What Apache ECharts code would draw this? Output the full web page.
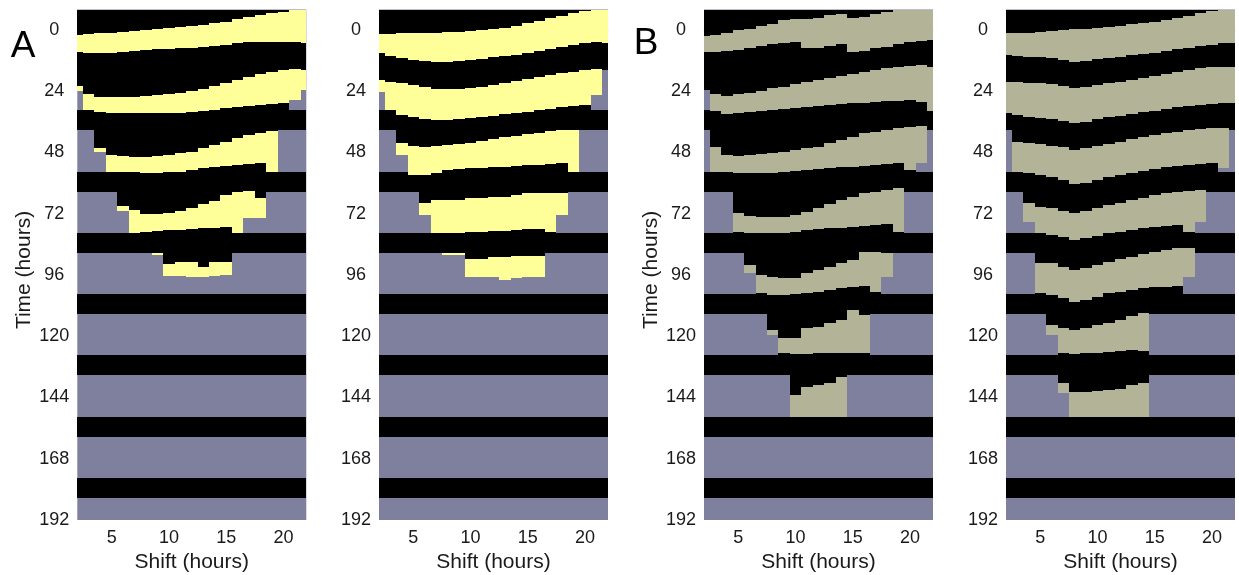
<!DOCTYPE html>
<html><head><meta charset="utf-8">
<script src="https://cdn.jsdelivr.net/npm/echarts@6/dist/echarts.min.js"></script>
<style>html,body{margin:0;padding:0;background:#fff}#c{width:1239px;height:575px}</style>
</head><body><div id="c"></div>
<script>
const _ = null;
// Column centres (shift, hours) and axis ticks
const shifts = [2,3,4,5,6,7,8,9,10,11,12,13,14,15,16,17,18,19,20,21,22];
const timeTicks = [0,24,48,72,96,120,144,168,192];
const shiftTicks = [5,10,15,20];
// Fixed sleep stripes (repeating every 24 h)
const sleepStart = 7.45, sleepEnd = 15.3, nDays = 8;

// ---- Panel A (left): end of the transient region, yellow band starts / ends
const a1End = [23.8,31.3,47.7,55.5,70.8,79.7,79.7,88.0,96.4,96.4,96.7,96.7,96.4,96.0,79.7,73.8,73.8,55.5,31.3,27.4,23.5];
const a1Top = [
 [2.0,1.7,1.3,1.0,0.7,0.3,0,-0.3,-0.7,-1.0,-1.6,-2.0,-2.6,-3.3,-4.2,-5.2,-5.9,-6.5,-7.2,-8,-8],
 [21.9,25.1,26.1,26.4,26.1,26.1,25.9,25.5,25.1,24.6,23.8,23.0,21.9,20.9,19.6,18.5,17.2,16.3,15.7,15.4,15.7],
 [_,_,46.1,49.0,49.4,49.6,49.6,49.4,49.0,48.3,47.7,46.4,45.1,43.8,42.5,41.1,40.2,39.4,_,_,_],
 [_,_,_,_,69.0,70.5,72.0,72.0,71.6,70.8,69.9,68.2,66.9,64.7,63.3,62.9,66.0,_,_,_,_],
 [_,_,_,_,_,_,_,87.5,91.7,90.8,90.8,92.7,90.8,90.8,_,_,_,_,_,_,_]
];
const a1Bot = [
 [8.5,8.9,9.1,8.9,8.5,8.2,7.8,7.6,7.4,7.2,6.9,6.5,6.3,5.9,5.2,4.8,4.6,4.6,4.6,4.8,5.2],
 [23.8,31.3,32.0,32.4,32.7,32.7,32.7,32.7,32.7,32.4,32.1,31.9,31.3,30.7,30.3,29.8,29.4,29.0,28.7,27.4,23.5],
 [_,_,47.7,55.5,55.5,55.5,55.9,55.9,55.7,55.5,54.9,54.2,53.6,53.2,52.9,52.6,52.2,55.5,_,_,_],
 [_,_,_,_,70.8,79.7,79.0,78.8,78.5,78.2,78.0,77.7,77.5,77.3,79.5,73.8,73.8,_,_,_,_],
 [_,_,_,_,_,_,_,88.0,96.4,96.4,96.7,96.7,96.4,96.0,_,_,_,_,_,_,_]
];
// ---- Panel A (right)
const a2End = [24.2,31.3,49.0,57.0,72.5,79.7,88.2,88.2,96.7,96.7,96.7,98.0,97.3,96.9,96.9,79.7,72.5,55.5,31.3,25.5,15.7];
const a2Top = [
 [1.6,1.6,1.3,1.3,1.2,1.0,0.9,0.7,0.4,0,-0.4,-0.9,-1.6,-2.6,-3.7,-4.6,-5.5,-6.5,-7.4,-8,-8],
 [19.6,20.2,20.9,21.7,22.5,23.1,23.2,23.1,22.7,22.2,21.6,20.9,20.1,19.3,18.5,17.8,17.0,16.3,15.8,15.4,_],
 [_,_,44.4,45.5,46.0,45.5,45.1,44.7,44.1,43.5,42.8,42.1,41.4,40.8,40.2,39.6,39.2,39.2,_,_,_],
 [_,_,_,_,67.9,66.6,66.6,66.6,66.0,66.0,65.3,65.3,64.7,63.7,63.7,64.0,63.7,_,_,_,_],
 [_,_,_,_,_,_,87.5,87.5,89.8,89.8,89.1,89.1,88.5,88.5,88.5,_,_,_,_,_,_]
];
const a2Bot = [
 [9.1,10.2,11.1,11.8,12.3,12.5,12.5,12.3,11.8,11.2,10.7,10.2,9.7,8.9,8.1,7.3,6.5,5.9,5.2,4.8,5.0],
 [24.2,31.3,33.3,34.0,34.7,35.3,35.3,35.0,34.6,34.0,33.6,33.0,32.7,32.0,31.3,30.8,30.3,29.8,29.4,25.5,_],
 [_,_,49.0,57.0,57.0,56.2,54.9,54.6,54.2,53.9,53.8,53.6,53.3,53.0,52.8,52.5,52.2,55.5,_,_,_],
 [_,_,_,_,72.5,79.7,79.7,79.7,79.0,79.0,78.8,78.8,78.4,77.9,77.9,79.0,72.5,_,_,_,_],
 [_,_,_,_,_,_,88.2,88.2,96.7,96.7,96.7,98.0,97.3,96.9,96.9,_,_,_,_,_,_]
];
// ---- Panel B (left)
const b1End = [23.5,55.5,55.5,79.7,95.4,103.8,119.5,127.4,151.5,151.5,151.5,151.5,151.5,127.4,127.4,103.8,96.7,79.7,55.5,52.2,31.7];
const b1Top = [
 [2.2,2.0,1.3,0,-0.4,-1.7,-2.2,-3.9,-4.3,-4.3,-4.8,-5.9,-6.1,-4.6,-5.2,-6.1,-6.9,-8,-8,-8,-8],
 [_,25.2,25.7,25.2,24.8,23.9,22.9,22.2,21.3,20.5,19.6,18.9,17.9,17.4,16.3,15.7,15.0,14.4,14.0,13.7,14.4],
 [_,45.7,49.0,49.4,49.0,48.6,48.3,47.7,47.0,46.4,45.7,44.4,43.1,41.8,40.5,39.8,39.2,38.5,37.9,37.6,_],
 [_,_,_,71.8,72.9,73.1,73.4,73.1,72.5,71.2,69.9,68.2,66.6,65.3,64.0,63.3,62.7,62.0,_,_,_],
 [_,_,_,_,92.1,96.0,96.7,97.3,97.1,95.4,94.0,92.7,91.4,90.1,86.9,86.9,87.5,_,_,_,_],
 [_,_,_,_,_,_,117.6,120.8,120.8,116.9,116.2,115.0,113.7,109.7,111.7,_,_,_,_,_,_],
 [_,_,_,_,_,_,_,_,143.0,139.8,139.1,138.5,135.8,_,_,_,_,_,_,_,_]
];
const b1Bot = [
 [8.5,8.7,8.2,7.8,7.2,6.1,5.6,5.2,4.6,7.2,6.9,6.1,5.6,8.7,8.2,7.2,6.5,5.6,4.8,4.3,3.9],
 [_,31.7,33.0,32.7,32.3,31.7,31.3,30.9,30.7,30.0,29.6,29.4,29.1,28.7,28.5,28.1,27.8,27.7,27.4,28.1,31.7],
 [_,55.5,55.5,55.9,56.2,56.2,55.9,55.5,55.1,54.9,54.6,54.2,53.8,53.6,53.3,52.9,52.6,52.2,54.9,52.2,_],
 [_,_,_,79.0,79.7,79.7,79.7,79.7,79.0,78.4,78.1,77.7,77.5,77.1,76.8,76.4,76.0,79.0,_,_,_],
 [_,_,_,_,95.4,103.2,103.8,103.8,103.4,102.9,102.5,101.9,101.2,100.6,100.3,102.5,96.7,_,_,_,_],
 [_,_,_,_,_,_,119.5,126.7,127.0,127.0,126.7,126.7,126.4,126.4,126.7,_,_,_,_,_,_],
 [_,_,_,_,_,_,_,_,151.5,151.5,151.5,151.5,151.5,_,_,_,_,_,_,_,_]
];
// ---- Panel B (right)
const b2End = [32.7,55.5,75.1,103.8,119.5,142.4,151.5,151.5,151.5,151.5,151.5,151.5,151.5,103.8,103.8,103.8,96.7,75.1,55.5,54.2,31.3];
const b2Top = [
 [1.3,1.3,1.0,0.7,0.3,0,-0.3,-0.5,-0.9,-1.3,-1.7,-2.2,-2.6,-3.1,-3.9,-4.6,-5.5,-6.5,-7.4,-8,-8],
 [20.2,20.4,20.6,20.9,21.3,21.9,22.6,22.2,21.6,20.9,20.2,19.6,18.9,18.2,17.2,16.5,15.7,15.0,14.6,14.4,14.4],
 [_,43.8,44.2,44.7,45.3,46.0,47.0,46.4,45.5,44.7,43.8,42.8,42.1,41.1,40.5,39.8,39.2,38.8,38.5,38.3,_],
 [_,_,67.9,69.2,69.9,70.8,71.6,70.8,69.9,68.6,67.7,66.6,65.7,64.7,64.0,63.3,62.9,62.7,_,_,_],
 [_,_,_,91.4,91.4,92.7,94.0,93.4,92.1,90.8,89.9,88.8,87.8,86.9,86.2,85.6,85.6,_,_,_,_],
 [_,_,_,_,115.6,116.9,117.6,116.9,115.6,114.7,113.6,112.1,111.0,_,_,_,_,_,_,_,_],
 [_,_,_,_,_,138.2,141.7,141.7,141.3,141.1,140.8,139.1,138.5,_,_,_,_,_,_,_,_]
];
const b2Bot = [
 [9.8,10.2,10.4,10.7,11.1,11.8,12.4,12.2,11.5,11.1,10.4,9.9,9.4,8.9,8.1,7.6,6.9,6.3,5.7,5.2,5.2],
 [32.7,33.3,34.0,34.6,35.0,35.5,36.3,35.9,35.0,34.2,33.6,32.9,32.3,31.6,31.0,30.3,29.8,29.4,29.0,28.7,28.7],
 [_,55.5,56.2,56.8,57.7,58.8,60.3,59.8,58.8,57.7,56.8,55.9,55.1,54.5,53.8,53.3,52.9,52.5,52.2,54.2,_],
 [_,_,75.1,79.7,80.3,81.2,82.3,81.6,80.7,79.7,79.0,78.4,77.7,77.3,76.8,76.4,79.0,75.1,_,_,_],
 [_,_,_,103.2,103.8,105.1,106.5,105.8,104.5,103.2,102.5,101.9,101.2,100.8,100.6,100.3,96.7,_,_,_,_],
 [_,_,_,_,119.5,126.7,127.0,126.7,126.4,126.0,125.7,125.4,125.7,_,_,_,_,_,_,_,_],
 [_,_,_,_,_,142.4,151.5,151.5,151.5,151.5,151.5,151.5,151.5,_,_,_,_,_,_,_,_]
];

// ---------------- layout / styles ----------------
const FONT = "'Liberation Sans', Helvetica, Arial, sans-serif";
const PURPLE = '#7f7f9e', BLACK = '#000000', YELLOW = '#ffff99', KHAKI = '#b3b397';
const gridLefts = [77.3, 379, 704, 1006];
const GRID_TOP = 9.6, GRID_H = 510.4, GRID_W = 229;
const panels = [
  {end: a1End, top: a1Top, bot: a1Bot, col: YELLOW},
  {end: a2End, top: a2Top, bot: a2Bot, col: YELLOW},
  {end: b1End, top: b1Top, bot: b1Bot, col: KHAKI},
  {end: b2End, top: b2Top, bot: b2Bot, col: KHAKI}
];
const xMin = shifts[0], xMax = shifts[shifts.length - 1];
const yMin = -8, yMax = timeTicks[timeTicks.length - 1];

function buildData(p) {
  const rows = [];
  for (let d = 0; d < nDays; d++) rows.push([xMin, xMax, sleepStart + 24 * d, sleepEnd + 24 * d, 0]);
  shifts.forEach((s, i) => {
    const x0 = Math.max(xMin, s - 0.5), x1 = Math.min(xMax, s + 0.5);
    rows.push([x0, x1, yMin, p.end[i], 0]);
  });
  shifts.forEach((s, i) => {
    const x0 = Math.max(xMin, s - 0.5), x1 = Math.min(xMax, s + 0.5);
    p.top.forEach((band, b) => {
      const t0 = band[i], t1 = p.bot[b][i];
      if (t0 == null || t1 == null) return;
      rows.push([x0, x1, t0, Math.min(t1, p.end[i]), 1]);
    });
  });
  return rows;
}

function renderItem(params, api) {
  const a = api.coord([api.value(0), api.value(2)]);
  const b = api.coord([api.value(1), api.value(3)]);
  const colors = [BLACK, panels[params.seriesIndex].col];
  const x0 = Math.round(Math.min(a[0], b[0])), x1 = Math.round(Math.max(a[0], b[0]));
  const y0 = Math.round(Math.min(a[1], b[1])), y1 = Math.round(Math.max(a[1], b[1]));
  return {
    type: 'rect',
    shape: {x: x0, y: y0, width: x1 - x0, height: y1 - y0},
    style: {fill: colors[api.value(4)], stroke: null, lineWidth: 0}
  };
}

const grids = [], xAxes = [], yAxes = [], series = [], graphics = [];
panels.forEach((p, k) => {
  grids.push({left: gridLefts[k], top: GRID_TOP, width: GRID_W, height: GRID_H,
    show: true, backgroundColor: PURPLE, borderWidth: 0, containLabel: false, outerBoundsMode: 'none'});
  xAxes.push({type: 'value', gridIndex: k, min: xMin, max: xMax,
    axisLine: {show: true, lineStyle: {color: '#c8c8c8', width: 1}},
    axisTick: {show: false}, splitLine: {show: false},
    axisLabel: {customValues: shiftTicks, margin: 9, fontSize: 18, color: '#1a1a1a', fontFamily: FONT}});
  yAxes.push({type: 'value', gridIndex: k, min: yMin, max: yMax, inverse: true,
    axisLine: {show: false}, axisTick: {show: false}, splitLine: {show: false},
    axisLabel: {customValues: timeTicks, align: 'center', margin: 23, fontSize: 18, color: '#1a1a1a', fontFamily: FONT}});
  series.push({type: 'custom', xAxisIndex: k, yAxisIndex: k, renderItem: renderItem,
    encode: {x: [0, 1], y: [2, 3]}, data: buildData(p), clip: true, silent: true, animation: false});
  graphics.push({type: 'text', x: gridLefts[k] + GRID_W / 2, y: 562,
    style: {text: 'Shift (hours)', fontSize: 21, fontFamily: FONT, fill: '#1a1a1a', textAlign: 'center', textVerticalAlign: 'middle'}});
});
[0, 2].forEach(k => {
  graphics.push({type: 'text', x: gridLefts[k] - 53, y: 270, rotation: Math.PI / 2,
    style: {text: 'Time (hours)', fontSize: 21, fontFamily: FONT, fill: '#1a1a1a', textAlign: 'center', textVerticalAlign: 'middle'}});
});
graphics.push({type: 'text', x: 23, y: 47, style: {text: 'A', fontSize: 37, fontFamily: FONT, fill: '#000', textAlign: 'center', textVerticalAlign: 'middle'}});
graphics.push({type: 'text', x: 646, y: 44, style: {text: 'B', fontSize: 37, fontFamily: FONT, fill: '#000', textAlign: 'center', textVerticalAlign: 'middle'}});

const chart = echarts.init(document.getElementById('c'), null, {renderer: 'canvas'});
chart.setOption({animation: false, backgroundColor: '#ffffff', grid: grids, xAxis: xAxes, yAxis: yAxes, series: series, graphic: graphics});
</script></body></html>
